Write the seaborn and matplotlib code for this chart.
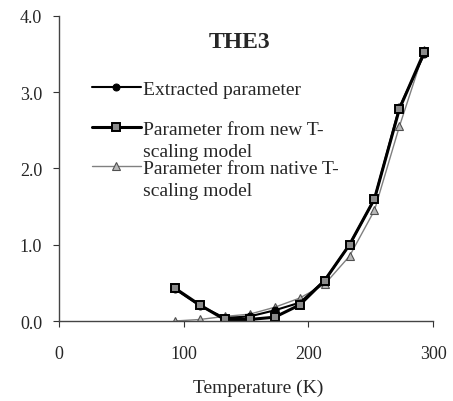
import matplotlib
matplotlib.use("Agg")
import matplotlib.pyplot as plt
from matplotlib.lines import Line2D
import seaborn as sns
import pandas as pd

temperature = [93, 113, 133, 153, 173, 193, 213, 233, 253, 273, 293]
extracted = [0.42, 0.20, 0.04, 0.06, 0.14, 0.24, 0.53, 1.00, 1.60, 2.80, 3.50]
new_tscaling = [0.43, 0.21, 0.02, 0.02, 0.05, 0.21, 0.53, 1.00, 1.60, 2.78, 3.53]
native_tscaling = [0.00, 0.02, 0.06, 0.09, 0.18, 0.30, 0.48, 0.85, 1.45, 2.55, 3.55]

label_lines = [["Extracted parameter"],
               ["Parameter from new T-", "scaling model"],
               ["Parameter from native T-", "scaling model"]]

sns.set_style("ticks")
plt.rcParams['font.family'] = ['Liberation Serif', 'DejaVu Serif']

fig = plt.figure(figsize=(4.53, 4.02), dpi=100)
ax = fig.add_axes([0.130, 0.199, 0.826, 0.759])

df = pd.DataFrame({"T": temperature, "ext": extracted,
                   "new": new_tscaling, "nat": native_tscaling})

sns.lineplot(data=df, x="T", y="nat", ax=ax, color="#808080", linewidth=1.0,
             marker="^", markersize=5.5, markerfacecolor="#b8b8b8",
             markeredgecolor="#505050", markeredgewidth=0.8, label="nat")
sns.lineplot(data=df, x="T", y="ext", ax=ax, color="black", linewidth=1.5,
             marker="o", markersize=5, markerfacecolor="black",
             markeredgecolor="black", label="ext")
sns.lineplot(data=df, x="T", y="new", ax=ax, color="black", linewidth=2.2,
             marker="s", markersize=5.5, markerfacecolor="#8a8a8a",
             markeredgecolor="black", markeredgewidth=1.4, label="new")

h, l = ax.get_legend_handles_labels()
hmap = dict(zip(l, h))
ax.get_legend().remove()

ax.set_xlim(0, 300)
ax.set_ylim(0, 4)
ax.set_xticks([0, 100, 200, 300])
ax.set_yticks([0, 1, 2, 3, 4])
ax.set_yticklabels(["0.0", "1.0", "2.0", "3.0", "4.0"])
ax.tick_params(axis="both", labelsize=13, length=4, width=0.8, color="#333333")
ax.tick_params(axis="y", pad=8)
ax.tick_params(axis="x", pad=13)
for s in ["top", "right"]:
    ax.spines[s].set_visible(False)
for s in ["left", "bottom"]:
    ax.spines[s].set_color("#444444")
    ax.spines[s].set_linewidth(1.0)

ax.set_xlabel("Temperature (K)", fontsize=14)
ax.xaxis.set_label_coords(0.532, -0.19)
ax.set_ylabel("")
ax.text(0.482, 0.915, "THE3", transform=ax.transAxes, ha="center", va="center",
        fontsize=17, fontweight="bold")

blank = Line2D([], [], color="none")
keys = ["ext", "new", "nat"]
tops = [0.797, 0.699, 0.601]
for key, lines, top in zip(keys, label_lines, tops):
    handles = [hmap[key]] + [blank] * (len(lines) - 1)
    fig.legend(handles, lines, loc="upper left",
               bbox_to_anchor=(0.203, top), frameon=False, fontsize=14,
               handlelength=2.5, handletextpad=0.15, labelspacing=0.25,
               borderpad=0, borderaxespad=0)

fig.savefig("out.png", dpi=100)
